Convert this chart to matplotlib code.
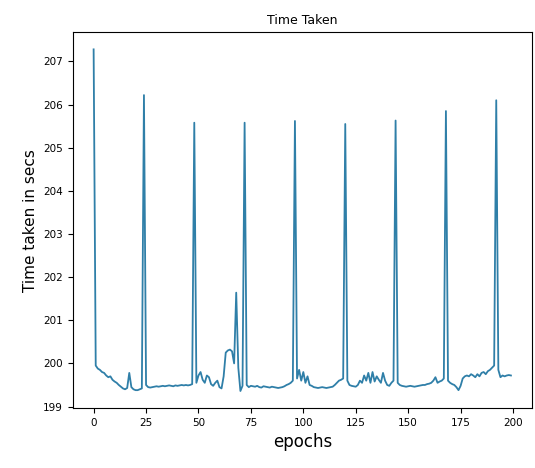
import matplotlib
matplotlib.use('Agg')
import matplotlib.pyplot as plt
import numpy as np

# time per epoch (secs)
time_taken = [
    207.28,
    199.95, 199.88, 199.85, 199.80, 199.78, 199.72, 199.68, 199.70, 199.62, 199.58, 199.55, 199.50,
    199.46, 199.42, 199.40, 199.43, 199.78, 199.45, 199.40, 199.38, 199.38, 199.40, 199.42,
    206.22,
    199.50, 199.45, 199.44, 199.45, 199.46, 199.47, 199.46, 199.47, 199.48, 199.47, 199.48, 199.49,
    199.48, 199.47, 199.49, 199.48, 199.49, 199.50, 199.49, 199.50, 199.49, 199.50, 199.52,
    205.58,
    199.55, 199.72, 199.80, 199.62, 199.55, 199.72, 199.68, 199.52, 199.48, 199.55, 199.60, 199.45,
    199.42, 199.70, 200.25,
    200.30, 200.32, 200.28, 200.00,
    201.64,
    199.90, 199.36, 199.48,
    205.58,
    199.50, 199.45, 199.48, 199.47, 199.46, 199.48, 199.45, 199.44, 199.47, 199.46, 199.45, 199.44,
    199.46, 199.45, 199.44, 199.43, 199.44, 199.45, 199.47, 199.50, 199.52, 199.55, 199.60,
    205.62,
    199.65, 199.85, 199.60, 199.80, 199.55, 199.70, 199.50, 199.48, 199.45, 199.44, 199.43, 199.44,
    199.45, 199.44, 199.43, 199.44, 199.45, 199.46, 199.50, 199.55, 199.60, 199.62, 199.65,
    205.55,
    199.60, 199.50, 199.48, 199.47, 199.46, 199.50, 199.60, 199.55, 199.72, 199.60, 199.78, 199.55,
    199.80, 199.58, 199.70, 199.62, 199.55, 199.78, 199.60, 199.50, 199.48, 199.55, 199.60,
    205.63,
    199.55, 199.50, 199.48, 199.47, 199.46, 199.47, 199.48, 199.47, 199.46, 199.47, 199.48, 199.49,
    199.50, 199.50, 199.52, 199.53, 199.55, 199.60, 199.68, 199.55, 199.58, 199.60, 199.65,
    205.85,
    199.60, 199.55, 199.52, 199.50, 199.45, 199.38, 199.48, 199.65, 199.70, 199.72, 199.70, 199.75,
    199.72, 199.68, 199.75, 199.70, 199.78, 199.80, 199.75, 199.82, 199.85, 199.90, 199.95,
    206.10,
    199.85, 199.68, 199.72, 199.70, 199.72, 199.73, 199.72,
]
epochs = np.arange(len(time_taken))

fig = plt.figure(figsize=(5.35, 4.68), dpi=100)
ax = fig.add_axes([0.136, 0.128, 0.858, 0.803])
ax.plot(epochs, time_taken, color='#2f7fa8', linewidth=1.3)
ax.set_title('Time Taken', fontsize=9)
ax.set_xlabel('epochs', fontsize=12)
ax.set_ylabel('Time taken in secs', fontsize=11)
ax.tick_params(labelsize=7.5)
fig.savefig('out.png', dpi=100)
